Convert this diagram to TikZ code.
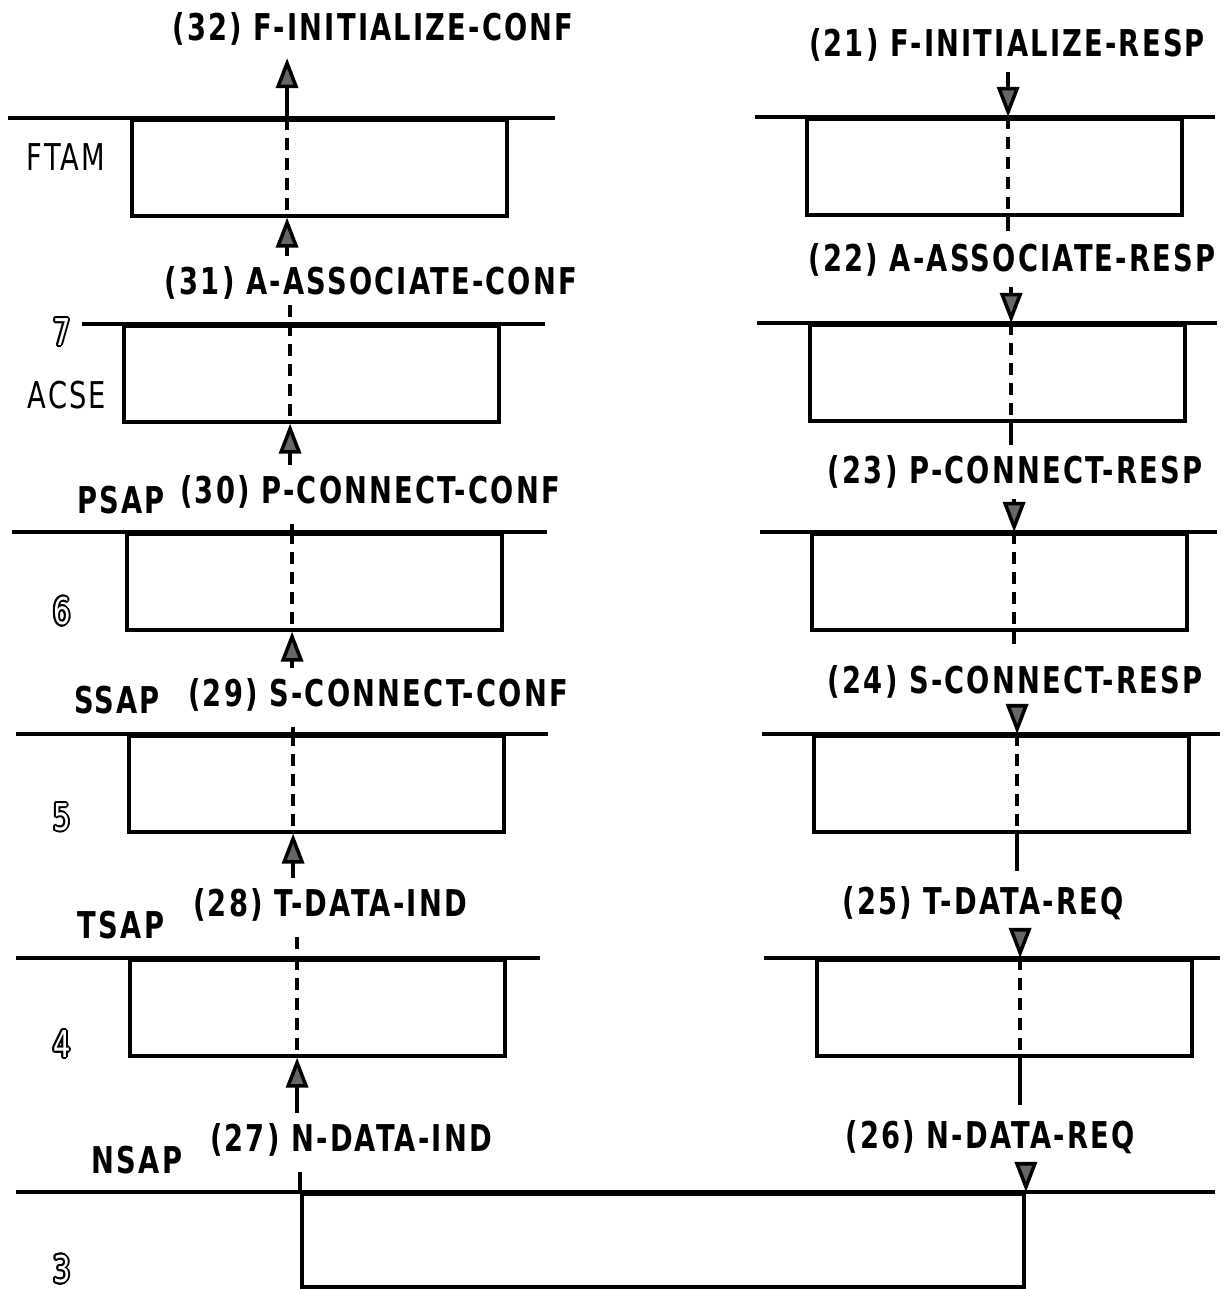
\documentclass[tikz,border=0pt]{standalone}
\usepackage{fontspec}
\newfontfamily\plotfont[FakeStretch=0.74,LetterSpace=6]{DejaVu Sans}
\usepackage{contour}
\contourlength{0.5pt}
\usetikzlibrary{arrows.meta,positioning}
\newcommand{\hollow}[1]{\contour{black}{\textcolor{white}{#1}}}

\begin{document}
\begin{tikzpicture}[x=0.01cm, y=-0.01cm,
    every node/.style={font=\plotfont\fontsize{10.5}{12}\selectfont, inner sep=0pt},
    lbl/.style={font=\plotfont\bfseries\fontsize{10.5}{12}\selectfont},
    layer/.style={draw, line width=1pt, anchor=north west,
        minimum width=3.75cm, minimum height=0.96cm},
    sap/.style={line width=1pt},
    dsh/.style={line width=1pt, dash pattern=on 1.2mm off 0.8mm},
    upa/.style={-{Triangle[width=2.2mm,length=3mm,fill=black!60]}, line width=1pt, shorten <=1mm},
    dna/.style={-{Triangle[width=2.2mm,length=3mm,fill=black!60]}, line width=1pt, shorten <=1mm}
]
    \useasboundingbox (0,0) rectangle (1229,1289);

    % layer boxes
    \node[layer] (ftamL) at (130,118) {};
    \node[layer] (acseL) at (122,324) {};
    \node[layer] (psapL) at (125,532) {};
    \node[layer] (ssapL) at (127,734) {};
    \node[layer] (tsapL) at (128,958) {};
    \node[layer] (ftamR) at (805,117) {};
    \node[layer] (acseR) at (808,323) {};
    \node[layer] (psapR) at (810,532) {};
    \node[layer] (ssapR) at (812,734) {};
    \node[layer] (tsapR) at (815,958) {};
    \node[layer, minimum width=7.22cm, minimum height=0.93cm] (net) at (300,1192) {};

    % service access points
    \draw[sap] (8,118) -- (555,118);    \draw[sap] (755,117) -- (1215,117);
    \draw[sap] (82,324) -- (545,324);   \draw[sap] (757,323) -- (1217,323);
    \draw[sap] (12,532) -- (547,532);   \draw[sap] (760,532) -- (1217,532);
    \draw[sap] (16,734) -- (548,734);   \draw[sap] (762,734) -- (1220,734);
    \draw[sap] (16,958) -- (540,958);   \draw[sap] (764,958) -- (1220,958);
    \draw[sap] (16,1192) -- (1215,1192);

    % layer names
    \node (ftam) at (66,157) {FTAM};
    \node (seven) at (62,333) {\hollow{7}};
    \node (acse) at (67,395) {ACSE};
    \node[lbl] (psap) at (121,500) {PSAP};
    \node (six) at (62,612) {\hollow{6}};
    \node[lbl] (ssap) at (117,700) {SSAP};
    \node (five) at (62,818) {\hollow{5}};
    \node[lbl] (tsap) at (121,925) {TSAP};
    \node (four) at (62,1045) {\hollow{4}};
    \node[lbl] (nsap) at (137,1160) {NSAP};
    \node (three) at (62,1270) {\hollow{3}};

    % primitives
    \node[lbl] (c32) at (373,29) {(32) F-INITIALIZE-CONF};
    \node[lbl] (c31) at (371,283) {(31) A-ASSOCIATE-CONF};
    \node[lbl] (c30) at (370,492) {(30) P-CONNECT-CONF};
    \node[lbl] (c29) at (378,695) {(29) S-CONNECT-CONF};
    \node[lbl] (c28) at (330,905) {(28) T-DATA-IND};
    \node[lbl] (c27) at (351,1140) {(27) N-DATA-IND};
    \node[lbl] (c21) at (1007,45) {(21) F-INITIALIZE-RESP};
    \node[lbl] (c22) at (1012,260) {(22) A-ASSOCIATE-RESP};
    \node[lbl] (c23) at (1015,472) {(23) P-CONNECT-RESP};
    \node[lbl] (c24) at (1015,682) {(24) S-CONNECT-RESP};
    \node[lbl] (c25) at (983,903) {(25) T-DATA-REQ};
    \node[lbl] (c26) at (990,1137) {(26) N-DATA-REQ};

    % crossing points
    \coordinate (ftamLt) at ([xshift=1.57cm]ftamL.north west);
    \coordinate (ftamLb) at ([xshift=1.57cm]ftamL.south west);
    \coordinate (acseLt) at ([xshift=1.68cm]acseL.north west);
    \coordinate (acseLb) at ([xshift=1.68cm]acseL.south west);
    \coordinate (psapLt) at ([xshift=1.67cm]psapL.north west);
    \coordinate (psapLb) at ([xshift=1.67cm]psapL.south west);
    \coordinate (ssapLt) at ([xshift=1.66cm]ssapL.north west);
    \coordinate (ssapLb) at ([xshift=1.66cm]ssapL.south west);
    \coordinate (tsapLt) at ([xshift=1.69cm]tsapL.north west);
    \coordinate (tsapLb) at ([xshift=1.69cm]tsapL.south west);
    \coordinate (ftamRt) at ([xshift=2.03cm]ftamR.north west);
    \coordinate (ftamRb) at ([xshift=2.03cm]ftamR.south west);
    \coordinate (acseRt) at ([xshift=2.03cm]acseR.north west);
    \coordinate (acseRb) at ([xshift=2.03cm]acseR.south west);
    \coordinate (psapRt) at ([xshift=2.04cm]psapR.north west);
    \coordinate (psapRb) at ([xshift=2.04cm]psapR.south west);
    \coordinate (ssapRt) at ([xshift=2.05cm]ssapR.north west);
    \coordinate (ssapRb) at ([xshift=2.05cm]ssapR.south west);
    \coordinate (tsapRt) at ([xshift=2.05cm]tsapR.north west);
    \coordinate (tsapRb) at ([xshift=2.05cm]tsapR.south west);

    % initiator side, upwards
    \draw[upa, shorten <=0pt, shorten >=1.2mm] (ftamLt) -- (c32.south -| ftamLt);
    \draw[dsh] (ftamLt) -- (ftamLb);
    \draw[upa] (c31.north -| ftamLb) -- (ftamLb);
    \draw[dsh, shorten <=0.5mm] (c31.south -| acseLt) -- (acseLt);
    \draw[dsh] (acseLt) -- (acseLb);
    \draw[upa] (c30.north -| acseLb) -- (acseLb);
    \draw[dsh, shorten <=1.5mm] (c30.south -| psapLt) -- (psapLt);
    \draw[dsh] (psapLt) -- (psapLb);
    \draw[upa] (c29.north -| psapLb) -- (psapLb);
    \draw[dsh, shorten <=1.5mm] (c29.south -| ssapLt) -- (ssapLt);
    \draw[dsh] (ssapLt) -- (ssapLb);
    \draw[upa] (c28.north -| ssapLb) -- (ssapLb);
    \draw[dsh, shorten <=1.5mm] (c28.south -| tsapLt) -- (tsapLt);
    \draw[dsh] (tsapLt) -- (tsapLb);
    \draw[upa] (c27.north -| tsapLb) -- (tsapLb);
    \draw[sap, shorten <=1.5mm] (c27.south -| net.north west) -- (net.north west);

    % responder side, downwards
    \draw[dna] (c21.south -| ftamRt) -- (ftamRt);
    \draw[dsh] (ftamRt) -- (ftamRb);
    \draw[sap, shorten >=1.2mm] (ftamRb) -- (c22.north -| ftamRb);
    \draw[dna] (c22.south -| acseRt) -- (acseRt);
    \draw[dsh] (acseRt) -- (acseRb);
    \draw[sap, shorten >=1mm] (acseRb) -- (c23.north -| acseRb);
    \draw[dna] (c23.south -| psapRt) -- (psapRt);
    \draw[dsh] (psapRt) -- (psapRb);
    \draw[dsh, shorten >=1.5mm] (psapRb) -- (c24.north -| psapRb);
    \draw[dna] (c24.south -| ssapRt) -- (ssapRt);
    \draw[dsh] (ssapRt) -- (ssapRb);
    \draw[sap, shorten >=1.5mm] (ssapRb) -- (c25.north -| ssapRb);
    \draw[dna] (c25.south -| tsapRt) -- (tsapRt);
    \draw[dsh] (tsapRt) -- (tsapRb);
    \draw[sap, shorten >=1.5mm] (tsapRb) -- (c26.north -| tsapRb);
    \draw[dna] (c26.south -| net.north east) -- (net.north east);
\end{tikzpicture}
\end{document}
